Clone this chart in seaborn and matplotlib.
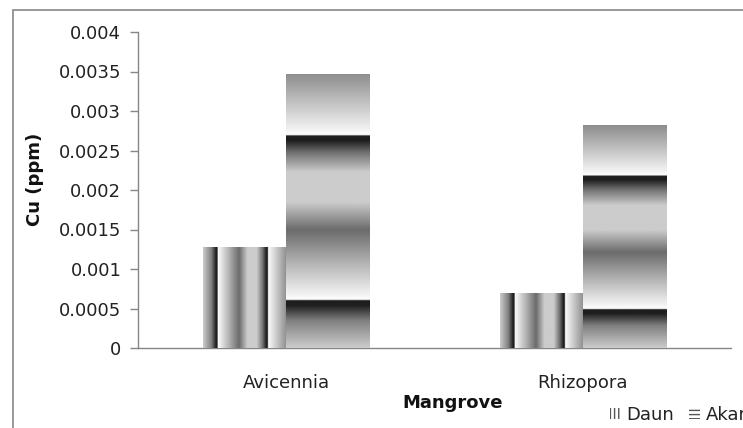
import numpy as np
import pandas as pd
import matplotlib
matplotlib.use('Agg')
import matplotlib.pyplot as plt
from matplotlib.patches import Patch, Rectangle
import seaborn as sns

# data
mangrove = ['Avicennia', 'Rhizopora']
daun = [0.00128, 0.00069]
akar = [0.00347, 0.00282]
bagian = ['Daun', 'Akar']
yticks = [0, 0.0005, 0.001, 0.0015, 0.002, 0.0025, 0.003, 0.0035, 0.004]
ylabels = ['0', '0.0005', '0.001', '0.0015', '0.002', '0.0025', '0.003', '0.0035', '0.004']

df = pd.DataFrame({
    'Mangrove': mangrove * 2,
    'Bagian': [bagian[0]] * len(mangrove) + [bagian[1]] * len(mangrove),
    'Cu': daun + akar,
})

sns.set_style('white')
plt.rcParams['font.family'] = ['DejaVu Sans']

fig = plt.figure(figsize=(7.43, 4.28), dpi=100)
ax = fig.add_axes([138 / 743, 1 - 348 / 428, (731 - 138) / 743, (348 - 32) / 428])

sns.barplot(data=df, x='Mangrove', y='Cu', hue='Bagian', order=mangrove,
            hue_order=bagian, width=0.56, palette=['#cccccc', '#cccccc'],
            legend=False, ax=ax, linewidth=0, saturation=1)

# excel "chrome" like gradient, t goes from bottom->top (or left->right)
stops_t = [0.00, 0.10, 0.155, 0.172, 0.176, 0.19, 0.30, 0.43, 0.53, 0.64, 0.71, 0.755, 0.772, 0.776, 0.79, 1.00]
stops_g = [0.80, 0.50, 0.12, 0.12, 1.00, 0.96, 0.72, 0.42, 0.80, 0.80, 0.45, 0.12, 0.12, 1.00, 0.96, 0.55]
tt = np.linspace(0, 1, 600)
grad = np.interp(tt, stops_t, stops_g)

for i, cont in enumerate(ax.containers):
    for bar in cont:
        x0, y0 = bar.get_x(), bar.get_y()
        x1, y1 = x0 + bar.get_width(), y0 + bar.get_height()
        if i == 0:
            img = grad[np.newaxis, :]
        else:
            img = grad[:, np.newaxis]
        im = ax.imshow(img, cmap='gray', vmin=0, vmax=1, origin='lower',
                       extent=[x0, x1, y0, y1], aspect='auto', zorder=3,
                       interpolation='bilinear')
        im.set_clip_path(bar)

ax.set_xlim(-0.5, 1.5)
ax.set_ylim(0, 0.004)
ax.set_yticks(yticks)
ax.set_yticklabels(ylabels)

ax.set_xticks(range(len(mangrove)))
ax.set_xticklabels(mangrove)
ax.set_xticks([-0.5, 0.5, 1.5], minor=True)
ax.tick_params(axis='x', which='major', length=0, pad=19, labelsize=13, labelcolor='#222222')
ax.tick_params(axis='x', which='minor', length=6, color='#868686', width=1, direction='out')
ax.tick_params(axis='y', length=6, color='#868686', width=1, direction='out',
               labelsize=13, labelcolor='#222222', pad=6, left=True)

for s in ['top', 'right']:
    ax.spines[s].set_visible(False)
for s in ['left', 'bottom']:
    ax.spines[s].set_color('#868686')
    ax.spines[s].set_linewidth(1)

ax.set_xlabel('Mangrove', fontsize=13, fontweight='bold', color='#111111')
ax.xaxis.set_label_coords(0.531, -0.145)
ax.set_ylabel('Cu (ppm)', fontsize=13, fontweight='bold', color='#111111')
ax.yaxis.set_label_coords(-0.158, 0.535)

# outer chart border
fig.patches.append(Rectangle((13 / 743, -0.05), 1.2, 1 - 10 / 428 + 0.05,
                             transform=fig.transFigure, fill=False,
                             edgecolor='#868686', linewidth=1.2, zorder=0))

handles = [Patch(facecolor='white', edgecolor='#555555', hatch='||||', linewidth=0, label=bagian[0]),
           Patch(facecolor='white', edgecolor='#555555', hatch='----', linewidth=0, label=bagian[1])]
fig.legend(handles=handles, loc='center left', bbox_to_anchor=(610 / 743, 1 - 415 / 428),
           ncol=2, frameon=False, fontsize=13, handlelength=0.6, handleheight=0.5,
           handletextpad=0.3, columnspacing=0.85, borderaxespad=0, borderpad=0,
           labelcolor='#222222')

plt.savefig('out.png', dpi=100)
